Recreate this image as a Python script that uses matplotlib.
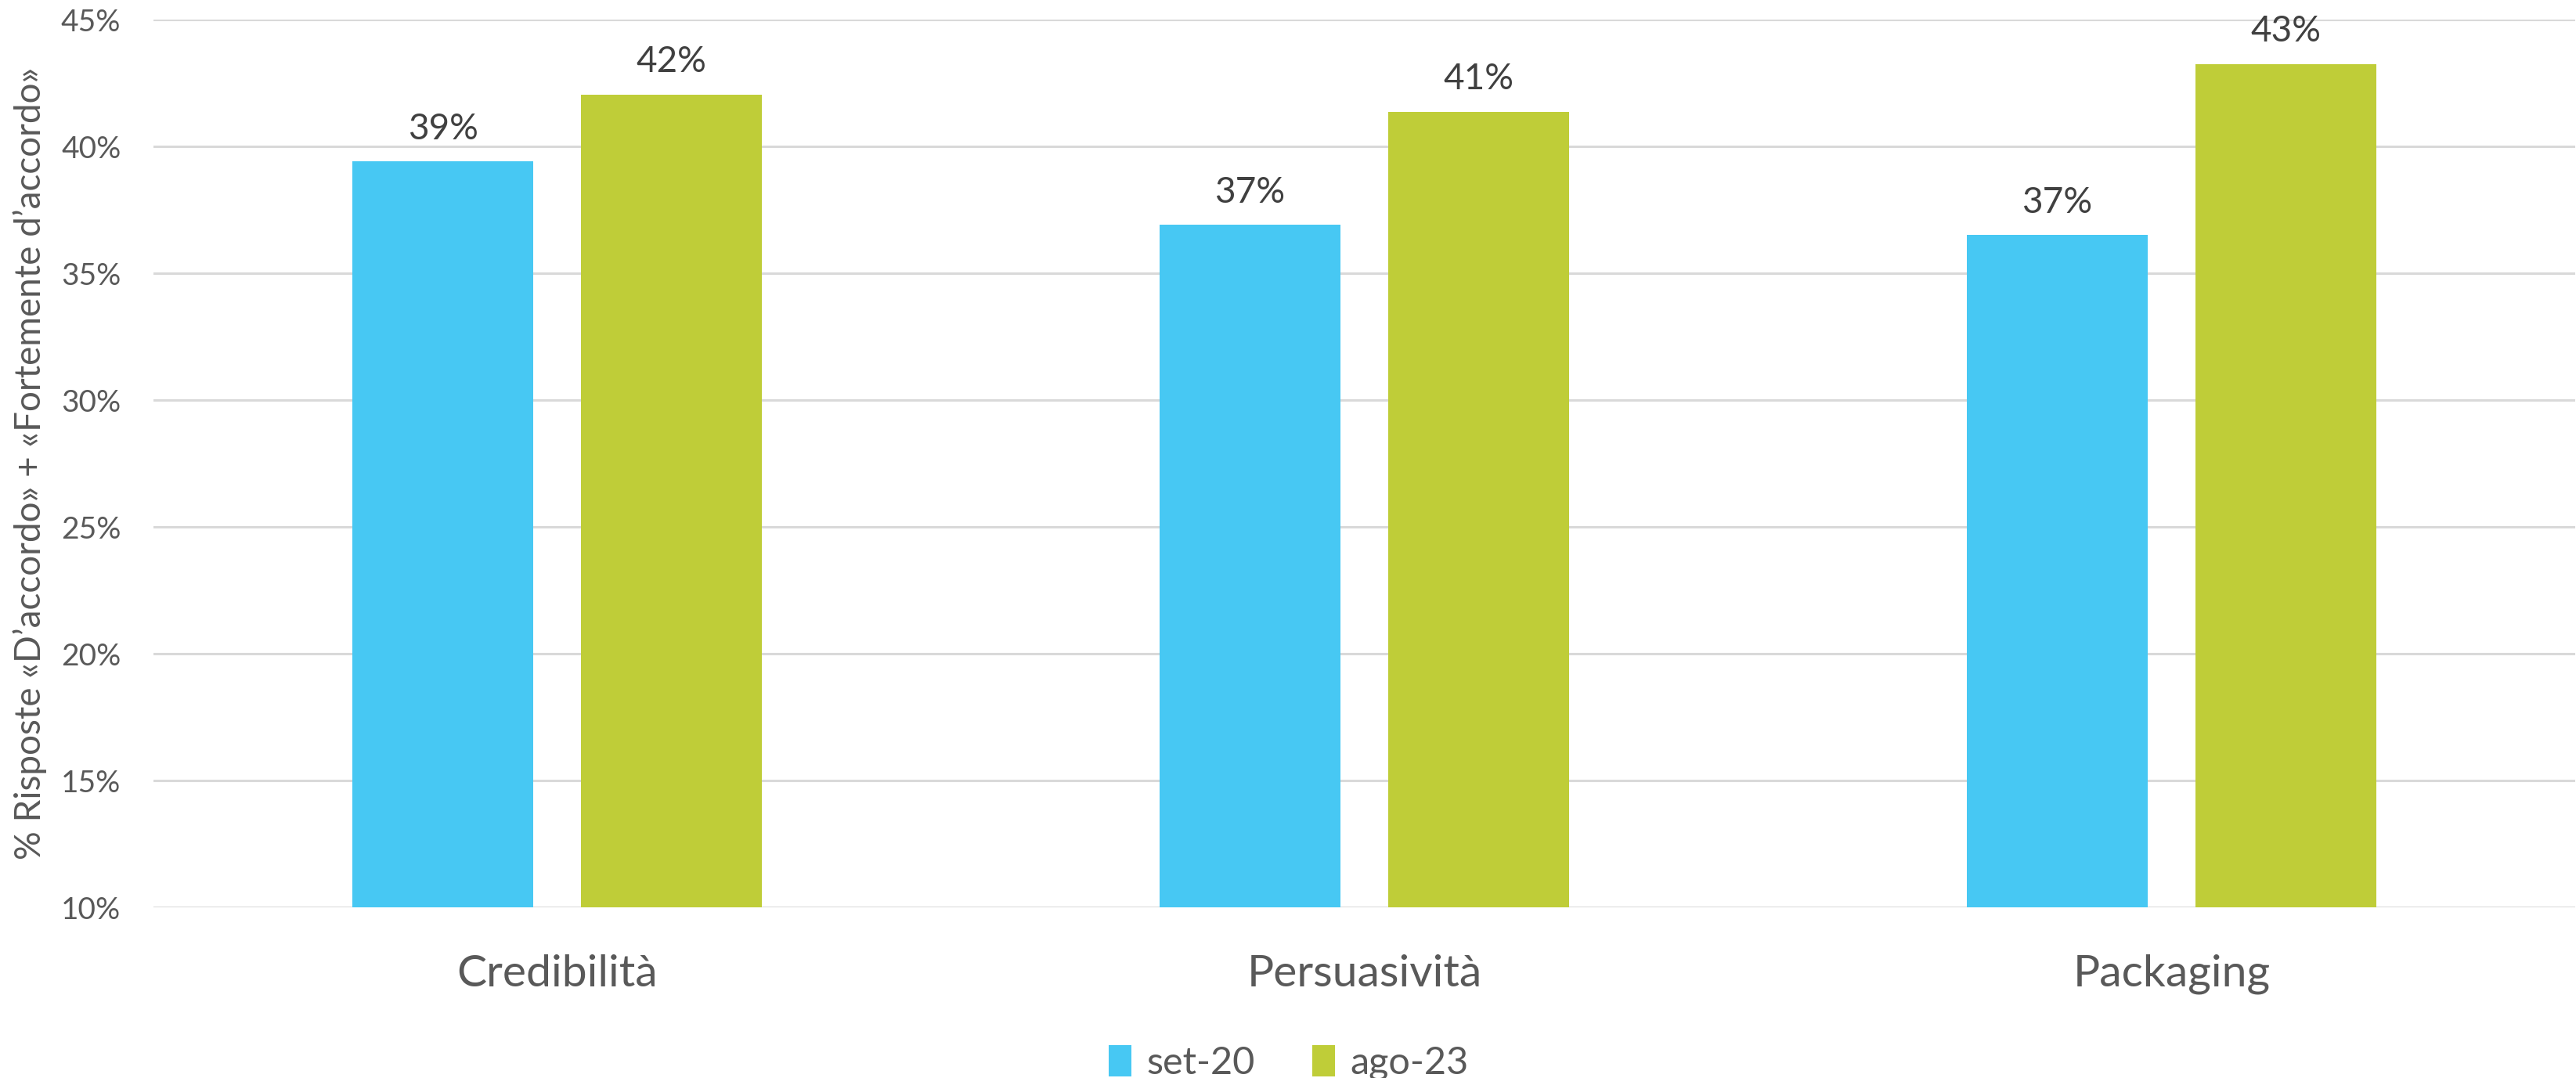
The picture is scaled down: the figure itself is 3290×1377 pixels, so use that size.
import matplotlib.pyplot as plt
import numpy as np
from matplotlib.ticker import PercentFormatter

# dati
categorie = ["Credibilità", "Persuasività", "Packaging"]
serie = ["set-20", "ago-23"]
valori_set20 = [0.394, 0.369, 0.365]
valori_ago23 = [0.4205, 0.4137, 0.4324]
etichette_set20 = ["39%", "37%", "37%"]
etichette_ago23 = ["42%", "41%", "43%"]
colori = ["#47C8F3", "#BFCD38"]

plt.rcParams['font.family'] = ['Lato', 'DejaVu Sans']

fig = plt.figure(figsize=(32.91, 13.77), dpi=100)
ax = fig.add_axes([0.0596, 0.1583, 0.9398, 0.8235])

x = np.arange(len(categorie))
larghezza = 0.224
scarto = 0.1416

barre1 = ax.bar(x - scarto, valori_set20, larghezza, color=colori[0], label=serie[0], zorder=3)
barre2 = ax.bar(x + scarto, valori_ago23, larghezza, color=colori[1], label=serie[1], zorder=3)

for barre, etichette in [(barre1, etichette_set20), (barre2, etichette_ago23)]:
    for b, t in zip(barre, etichette):
        ax.annotate(t, (b.get_x() + b.get_width() / 2, b.get_height()),
                    xytext=(0, 15), textcoords='offset points',
                    ha='center', va='bottom', fontsize=33, color='#404040')

ax.set_ylim(0.10, 0.45)
ax.set_xlim(-0.5, 2.5)
ax.set_yticks(np.arange(0.10, 0.451, 0.05))
ax.yaxis.set_major_formatter(PercentFormatter(1.0, decimals=0))
ax.set_xticks(x)
ax.set_xticklabels(categorie)

ax.tick_params(axis='y', length=0, labelsize=28, labelcolor='#595959', pad=30)
ax.tick_params(axis='x', length=0, labelsize=41, labelcolor='#595959', pad=43)
ax.grid(axis='y', color='#D9D9D9', linewidth=2.2, zorder=0)
for s in ax.spines.values():
    s.set_visible(False)

ax.set_ylabel("% Risposte «D’accordo» + «Fortemente d’accordo»", fontsize=33, color='#595959')
ax.yaxis.set_label_coords(-0.044, 0.5)

fig.legend(loc='lower center', bbox_to_anchor=(0.5, -0.034), ncol=2, frameon=False,
           fontsize=35, labelcolor='#595959', handlelength=0.6, handleheight=0.9,
           handletextpad=0.4, columnspacing=1.5)

fig.savefig("out.png", dpi=100)
